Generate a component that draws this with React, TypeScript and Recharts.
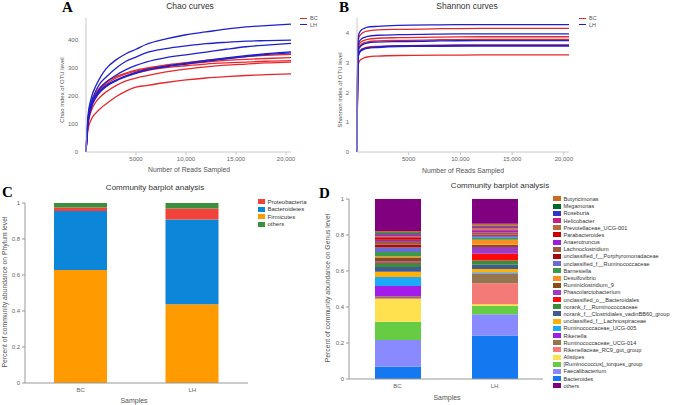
import React from 'react';
import { LineChart, Line, XAxis, YAxis, BarChart, Bar, Legend } from 'recharts';

const FONT = "'Liberation Sans', Arial, Helvetica, sans-serif";
const SERIF = "'Liberation Serif', 'Times New Roman', serif";

// ---------- shared ----------
const groups = ['BC', 'LH'];
const groupColors = ['#E8262B', '#1F1FCC'];
const readTicks = [5000, 10000, 15000, 20000];
const readTickLabels = ['5000', '10,000', '15,000', '20,000'];
const chaoTicks = [0, 100, 200, 300, 400];
const shannonTicks = [0, 1, 2, 3, 4];
const fracTicks = [0, 0.2, 0.4, 0.6, 0.8, 1];

// ---------- Chao rarefaction ----------
const chaoX = [0, 200, 500, 1000, 1500, 2000, 3000, 4000, 5000, 6000, 8000, 10000, 12000, 14000, 16000, 18000, 20500];
const chaoBC1 = [0, 115, 170, 212, 235, 250, 270, 283, 293, 300, 312, 320, 328, 335, 342, 346, 350];
const chaoBC2 = [0, 110, 165, 205, 228, 243, 265, 280, 290, 298, 308, 315, 322, 328, 332, 335, 338];
const chaoBC3 = [0, 105, 158, 198, 220, 235, 257, 272, 283, 291, 302, 309, 315, 319, 322, 325, 327];
const chaoBC4 = [0, 95, 145, 180, 200, 215, 238, 255, 265, 273, 287, 297, 305, 311, 315, 319, 322];
const chaoBC5 = [0, 80, 115, 140, 158, 172, 198, 218, 232, 238, 249, 258, 265, 270, 274, 277, 280];
const chaoLH1 = [0, 130, 190, 238, 272, 298, 330, 352, 368, 385, 405, 420, 430, 440, 448, 453, 458];
const chaoLH2 = [0, 120, 175, 220, 250, 268, 300, 325, 340, 355, 370, 380, 388, 393, 397, 399, 401];
const chaoLH3 = [0, 110, 165, 205, 232, 250, 275, 295, 310, 322, 338, 348, 358, 368, 377, 383, 389];
const chaoLH4 = [0, 105, 160, 200, 222, 238, 258, 273, 285, 295, 308, 318, 328, 337, 345, 352, 359];
const chaoLH5 = [0, 100, 155, 195, 218, 234, 255, 270, 282, 292, 305, 315, 325, 334, 342, 349, 355];

// ---------- Shannon rarefaction ----------
const shX = [0, 50, 100, 200, 400, 700, 1000, 2000, 4000, 8000, 12000, 16000, 20500];
const shBC1 = [0, 2.49, 3.65, 3.86, 3.96, 4.03, 4.06, 4.10, 4.12, 4.14, 4.15, 4.15, 4.15];
const shBC2 = [0, 2.32, 3.41, 3.60, 3.70, 3.75, 3.78, 3.82, 3.84, 3.86, 3.87, 3.87, 3.87];
const shBC3 = [0, 2.27, 3.33, 3.52, 3.61, 3.67, 3.70, 3.73, 3.75, 3.77, 3.78, 3.78, 3.78];
const shBC4 = [0, 2.16, 3.17, 3.35, 3.44, 3.49, 3.52, 3.55, 3.57, 3.59, 3.60, 3.60, 3.60];
const shBC5 = [0, 1.96, 2.87, 3.03, 3.11, 3.16, 3.19, 3.22, 3.24, 3.25, 3.26, 3.26, 3.26];
const shLH1 = [0, 2.57, 3.77, 3.98, 4.09, 4.15, 4.19, 4.22, 4.25, 4.27, 4.28, 4.28, 4.28];
const shLH2 = [0, 2.38, 3.49, 3.69, 3.79, 3.85, 3.88, 3.92, 3.94, 3.96, 3.97, 3.97, 3.97];
const shLH3 = [0, 2.24, 3.29, 3.48, 3.57, 3.63, 3.66, 3.69, 3.71, 3.73, 3.74, 3.74, 3.74];
const shLH4 = [0, 2.15, 3.15, 3.33, 3.42, 3.47, 3.50, 3.53, 3.56, 3.57, 3.58, 3.58, 3.58];
const shLH5 = [0, 2.14, 3.13, 3.31, 3.40, 3.45, 3.48, 3.51, 3.54, 3.55, 3.56, 3.56, 3.56];

// ---------- Phylum (stack order bottom -> top) ----------
const phylumNames = ['Firmicutes', 'Bacteroidetes', 'Proteobacteria', 'others'];
const phylumBC = [0.628, 0.327, 0.020, 0.025];
const phylumLH = [0.437, 0.472, 0.061, 0.030];
const phylumColors = ['#FF9A00', '#0C86D9', '#F2423A', '#3C8F3C'];

// ---------- Genus (stack order bottom -> top) ----------
const genusNames = [
  'Bacteroides', 'Faecalibacterium', '[Ruminococcus]_torques_group', 'Alistipes',
  'Rikenellaceae_RC9_gut_group', 'Ruminococcaceae_UCG-014', 'Rikenella', 'Ruminococcaceae_UCG-005',
  'unclassified_f__Lachnospiraceae', 'norank_f__Clostridiales_vadinBB60_group', 'norank_f__Ruminococcaceae',
  'unclassified_o__Bacteroidales', 'Phascolarctobacterium', 'Ruminiclostridium_9', 'Desulfovibrio',
  'Barnesiella', 'unclassified_f__Ruminococcaceae', 'unclassified_f__Porphyromonadaceae', 'Lachnoclostridium',
  'Anaerotruncus', 'Parabacteroides', 'Prevotellaceae_UCG-001', 'Helicobacter', 'Roseburia', 'Megamonas',
  'Butyricimonas', 'others',
];
const genusBC = [
  0.068, 0.149, 0.101, 0.126, 0.004, 0.012, 0.056, 0.050, 0.030, 0.026, 0.022, 0.005, 0.005, 0.018,
  0.008, 0.025, 0.025, 0.017, 0.019, 0.008, 0.013, 0.005, 0.010, 0.005, 0.008, 0.007, 0.178,
];
const genusLH = [
  0.241, 0.119, 0.046, 0.009, 0.117, 0.054, 0.002, 0.005, 0.018, 0.024, 0.024, 0.037, 0.037, 0.013,
  0.028, 0.011, 0.011, 0.006, 0.012, 0.011, 0.006, 0.006, 0.008, 0.004, 0.004, 0.010, 0.137,
];
const genusColors = [
  '#1478F0', '#8A8AFF', '#66CC44', '#FFE14F', '#F47A78', '#94754F', '#A21DEA', '#1EA8F8',
  '#FFB000', '#3F5B8F', '#3A8E3A', '#FF0A0A', '#9D3BC6', '#8B4A1A', '#F99020', '#3B9B4A',
  '#6B6BD4', '#A80A0A', '#A05A40', '#9A1FD6', '#CC0000', '#B3703D', '#CC1F86', '#3333CC',
  '#00662A', '#CC6A22', '#800080',
];

// ---------- build tables ----------
const chaoSeries = [chaoBC1, chaoBC2, chaoBC3, chaoBC4, chaoBC5, chaoLH1, chaoLH2, chaoLH3, chaoLH4, chaoLH5];
const shSeries = [shBC1, shBC2, shBC3, shBC4, shBC5, shLH1, shLH2, shLH3, shLH4, shLH5];
const seriesGroup = [0, 0, 0, 0, 0, 1, 1, 1, 1, 1];

const chaoRows = chaoX.map((x, i) => {
  const r: any = { x };
  chaoSeries.forEach((s, k) => (r['s' + k] = s[i]));
  return r;
});
const shRows = shX.map((x, i) => {
  const r: any = { x };
  shSeries.forEach((s, k) => (r['s' + k] = s[i]));
  return r;
});
const phylumRows = groups.map((g, gi) => {
  const r: any = { sample: g };
  const vals = gi === 0 ? phylumBC : phylumLH;
  phylumNames.forEach((_, i) => (r['p' + i] = vals[i]));
  return r;
});
const genusRows = groups.map((g, gi) => {
  const r: any = { sample: g };
  const vals = gi === 0 ? genusBC : genusLH;
  genusNames.forEach((_, i) => (r['g' + i] = vals[i]));
  return r;
});

// ---------- helpers ----------
const abs = (left: number, top: number): React.CSSProperties => ({ position: 'absolute', left, top });

const Txt = ({ x, y, size, children, rotate, color = '#444', weight = 400 }: any) => (
  <div
    style={{
      position: 'absolute', left: x, top: y, fontSize: size, fontFamily: FONT, color, fontWeight: weight,
      whiteSpace: 'nowrap', lineHeight: 1,
      transform: `translate(-50%, -50%)${rotate ? ' rotate(-90deg)' : ''}`,
    }}
  >
    {children}
  </div>
);

const Letter = ({ x, y, children }: any) => (
  <div style={{ ...abs(x, y), fontFamily: SERIF, fontWeight: 700, fontSize: 15, lineHeight: '15px', color: '#000' }}>
    {children}
  </div>
);

const LineLegend = () => (
  <div style={{ fontFamily: FONT, fontSize: 5.5, color: '#555' }}>
    {groups.map((g, i) => (
      <div key={g} style={{ display: 'flex', alignItems: 'center', height: 6.5 }}>
        <span style={{ display: 'inline-block', width: 7, height: 1.4, background: groupColors[i], marginRight: 3 }} />
        {g}
      </div>
    ))}
  </div>
);

const BoxLegend = ({ items, step, size, sw }: any) => (
  <div style={{ fontFamily: FONT, fontSize: size, color: '#333' }}>
    {items.map((it: any) => (
      <div key={it.name} style={{ display: 'flex', alignItems: 'center', height: step, whiteSpace: 'nowrap' }}>
        <span style={{ display: 'inline-block', width: sw, height: 5, background: it.color, marginRight: 2.5 }} />
        {it.name}
      </div>
    ))}
  </div>
);

const phylumLegendItems = [2, 1, 0, 3].map((i) => ({ name: phylumNames[i], color: phylumColors[i] }));
const genusLegendItems = genusNames
  .map((n, i) => ({ name: n, color: genusColors[i] }))
  .slice(0, -1)
  .reverse()
  .concat([{ name: genusNames[genusNames.length - 1], color: genusColors[genusColors.length - 1] }]);

const tickStyle = { fontSize: 6, fill: '#666', fontFamily: FONT };

export default function App() {
  return (
    <div style={{ position: 'absolute', left: 0, top: 0, width: 677, height: 405, background: '#fff', overflow: 'hidden' }}>
      {/* Panel A */}
      <div style={abs(0, 0)}>
        <LineChart width={337} height={185} data={chaoRows} margin={{ top: 18, right: 46, left: 56, bottom: 13 }}>
          <XAxis
            type="number" dataKey="x" domain={[0, 20500]} ticks={readTicks}
            tickFormatter={(v: number) => readTickLabels[readTicks.indexOf(v)]}
            tick={tickStyle} tickSize={3} stroke="#c8c8c8" height={20}
          />
          <YAxis domain={[0, 480]} ticks={chaoTicks} tick={tickStyle} tickLine={false} stroke="#c8c8c8" width={30} />
          {chaoSeries.map((_, k) => (
            <Line key={k} type="monotone" dataKey={'s' + k} stroke={groupColors[seriesGroup[k]]} strokeWidth={1.3}
              dot={false} isAnimationActive={false} />
          ))}
          <Legend layout="vertical" align="center" verticalAlign="middle"
            wrapperStyle={{ left: 300, top: 15, width: 30, height: 14 }} content={() => <LineLegend />} />
        </LineChart>
      </div>

      {/* Panel B */}
      <div style={abs(337, 0)}>
        <LineChart width={340} height={185} data={shRows} margin={{ top: 18, right: 108, left: 8, bottom: 13 }}>
          <XAxis
            type="number" dataKey="x" domain={[0, 20500]} ticks={readTicks}
            tickFormatter={(v: number) => readTickLabels[readTicks.indexOf(v)]}
            tick={tickStyle} tickSize={3} stroke="#c8c8c8" height={20}
          />
          <YAxis domain={[0, 4.5]} ticks={shannonTicks} tick={tickStyle} tickLine={false} stroke="#c8c8c8" width={12} />
          {shSeries.map((_, k) => (
            <Line key={k} type="monotone" dataKey={'s' + k} stroke={groupColors[seriesGroup[k]]} strokeWidth={1.3}
              dot={false} isAnimationActive={false} />
          ))}
          <Legend layout="vertical" align="center" verticalAlign="middle"
            wrapperStyle={{ left: 242, top: 15, width: 30, height: 14 }} content={() => <LineLegend />} />
        </LineChart>
      </div>

      {/* Panel C */}
      <div style={abs(0, 195)}>
        <BarChart width={337} height={210} data={phylumRows} margin={{ top: 8, right: 89, left: 5, bottom: 8 }}>
          <XAxis dataKey="sample" tick={tickStyle} tickLine={false} tickSize={3} stroke="#999" height={14} />
          <YAxis domain={[0, 1]} ticks={fracTicks} tick={tickStyle} tickSize={3} stroke="#999" width={20} />
          {phylumNames.map((n, i) => (
            <Bar key={n} dataKey={'p' + i} name={n} stackId="a" fill={phylumColors[i]} barSize={53} isAnimationActive={false} />
          ))}
          <Legend layout="vertical" align="center" verticalAlign="middle"
            wrapperStyle={{ left: 258, top: 3.3, width: 75, height: 30 }}
            content={() => <BoxLegend items={phylumLegendItems} step={7.4} size={6} sw={7} />} />
        </BarChart>
      </div>

      {/* Panel D */}
      <div style={abs(320, 195)}>
        <BarChart width={357} height={210} data={genusRows} margin={{ top: 4, right: 134, left: 9, bottom: 12 }}>
          <XAxis dataKey="sample" tick={tickStyle} tickLine={false} tickSize={3} stroke="#999" height={14} />
          <YAxis domain={[0, 1]} ticks={fracTicks} tick={tickStyle} tickSize={3} stroke="#999" width={20} />
          {genusNames.map((n, i) => (
            <Bar key={n} dataKey={'g' + i} name={n} stackId="a" fill={genusColors[i]} barSize={46} isAnimationActive={false} />
          ))}
          <Legend layout="vertical" align="center" verticalAlign="middle"
            wrapperStyle={{ left: 233, top: 0.4, width: 124, height: 196 }}
            content={() => <BoxLegend items={genusLegendItems} step={7.2} size={5.6} sw={8} />} />
        </BarChart>
      </div>

      {/* Titles & labels */}
      <Txt x={190} y={5.5} size={8.5} color="#333">Chao curves</Txt>
      <Txt x={467} y={5.5} size={8.5} color="#333">Shannon curves</Txt>
      <Txt x={189} y={170} size={6.8} color="#555">Number of Reads Sampled</Txt>
      <Txt x={463} y={171} size={6.8} color="#555">Number of Reads Sampled</Txt>
      <Txt x={62} y={90} size={6} rotate color="#555">Chao index of OTU level</Txt>
      <Txt x={340} y={90} size={6} rotate color="#555">Shannon index of OTU level</Txt>

      <Txt x={155} y={188} size={8} color="#333">Community barplot analysis</Txt>
      <Txt x={500} y={186} size={8} color="#333">Community barplot analysis</Txt>
      <Txt x={5} y={292} size={6.8} rotate color="#555">Percent of community abundance on Phylum level</Txt>
      <Txt x={328} y={288} size={6.8} rotate color="#555">Percent of community abundance on Genus level</Txt>
      <Txt x={134} y={400} size={7} color="#555">Samples</Txt>
      <Txt x={447} y={397} size={7} color="#555">Samples</Txt>

      <Letter x={62} y={0}>A</Letter>
      <Letter x={339} y={0}>B</Letter>
      <Letter x={2} y={185}>C</Letter>
      <Letter x={319} y={186}>D</Letter>
    </div>
  );
}
